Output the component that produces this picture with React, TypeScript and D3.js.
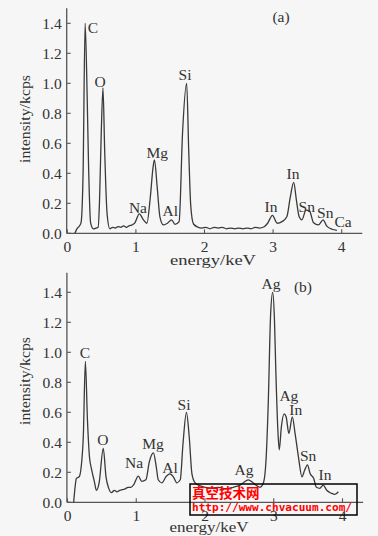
import React from "react";
import * as d3 from "d3";

// ---------- DATA ----------
const xTicks = [0, 1, 2, 3, 4];
const yTicks = [0, 0.2, 0.4, 0.6, 0.8, 1.0, 1.2, 1.4];

const energyA = [0.11,0.14,0.17,0.2,0.23,0.26,0.29,0.31,0.34,0.38,0.42,0.45,0.47,0.495,0.52,0.545,0.58,0.62,0.66,0.7,0.74,0.78,0.82,0.86,0.9,0.94,0.985,1.05,1.11,1.16,1.21,1.25,1.27,1.31,1.35,1.4,1.46,1.52,1.57,1.63,1.68,1.74,1.77,1.8,1.84,1.91,1.96,2.02,2.08,2.14,2.2,2.26,2.32,2.38,2.44,2.5,2.56,2.62,2.68,2.74,2.8,2.87,2.92,2.99,3.06,3.13,3.2,3.25,3.3,3.34,3.38,3.42,3.48,3.53,3.59,3.66,3.73,3.78,3.86,3.93];
const intensityA = [0.0,0.03,0.045,0.07,0.4,1.4,0.9,0.45,0.07,0.03,0.035,0.04,0.22,0.67,0.97,0.55,0.13,0.03,0.04,0.035,0.045,0.04,0.05,0.04,0.05,0.055,0.07,0.13,0.09,0.067,0.24,0.44,0.49,0.31,0.11,0.056,0.067,0.09,0.06,0.078,0.67,1.0,0.55,0.18,0.062,0.04,0.035,0.04,0.03,0.04,0.035,0.04,0.03,0.035,0.03,0.035,0.03,0.035,0.03,0.04,0.035,0.044,0.067,0.12,0.067,0.078,0.11,0.24,0.34,0.22,0.11,0.09,0.155,0.15,0.07,0.056,0.09,0.05,0.027,0.02];

const energyB = [0.09,0.11,0.13,0.17,0.2,0.23,0.26,0.29,0.32,0.35,0.39,0.42,0.46,0.52,0.56,0.6,0.64,0.68,0.72,0.76,0.8,0.84,0.88,0.92,0.96,1.03,1.08,1.14,1.19,1.25,1.29,1.32,1.37,1.44,1.49,1.54,1.59,1.64,1.68,1.73,1.77,1.81,1.856,1.93,2.0,2.1,2.2,2.3,2.41,2.51,2.63,2.7,2.8,2.85,2.89,2.92,2.955,2.985,3.01,3.03,3.06,3.08,3.11,3.15,3.18,3.22,3.27,3.31,3.36,3.41,3.45,3.49,3.53,3.58,3.62,3.67,3.72,3.77,3.84,3.89,3.94];
const intensityB = [0,0.1,0.16,0.17,0.24,0.44,0.94,0.55,0.3,0.22,0.14,0.08,0.13,0.36,0.17,0.093,0.064,0.08,0.07,0.08,0.085,0.09,0.1,0.1,0.115,0.175,0.14,0.15,0.27,0.33,0.24,0.15,0.13,0.175,0.19,0.17,0.13,0.15,0.39,0.6,0.44,0.19,0.13,0.11,0.1,0.095,0.1,0.09,0.1,0.115,0.15,0.13,0.1,0.13,0.3,0.66,1.26,1.4,1.22,0.88,0.48,0.35,0.5,0.59,0.57,0.46,0.57,0.46,0.3,0.17,0.215,0.25,0.19,0.16,0.1,0.093,0.115,0.08,0.06,0.053,0.07];

const labelTextA = ["C","O","Si","Mg","Na","Al","In","In","Sn","Sn","Ca"];
const labelEnergyA = [0.375,0.477,1.716,1.31,1.03,1.5,2.97,3.29,3.49,3.76,4.02];
const labelIntensityA = [1.37,1.01,1.055,0.54,0.17,0.15,0.175,0.395,0.175,0.14,0.075];

const labelTextB = ["C","O","Na","Mg","Al","Si","Ag","Ag","Ag","In","Sn","In"];
const labelEnergyB = [0.255,0.516,0.967,1.244,1.49,1.695,2.567,2.96,3.22,3.32,3.5,3.745];
const labelIntensityB = [1.0,0.415,0.262,0.389,0.229,0.649,0.215,1.455,0.709,0.615,0.309,0.182];

const xTitle = "energy/keV";
const yTitle = "intensity/kcps";

const FONT = "'Liberation Serif', 'DejaVu Serif', serif";
const INK = "#333";

type PanelProps = {
  x0: number; xPerUnit: number; yBase: number; yPerUnit: number; yTop: number;
  energy: number[]; intensity: number[];
  lt: string[]; le: number[]; li: number[];
  tag: string; tagE: number; tagI: number;
};

function Panel(p: PanelProps) {
  const xMax = 4.3;
  const x = d3.scaleLinear().domain([0, xMax]).range([p.x0, p.x0 + xMax * p.xPerUnit]);
  const y = d3.scaleLinear().domain([0, 1]).range([p.yBase, p.yBase - p.yPerUnit]);
  const pts = p.energy.map((e, i) => [e, p.intensity[i]] as [number, number]);
  const line = d3.line<[number, number]>().x(d => x(d[0])).y(d => y(d[1])).curve(d3.curveMonotoneX);
  const ax = x(0) - 0.6;
  return (
    <g>
      <line x1={ax} x2={ax} y1={y(p.yTop)} y2={y(0)} stroke="#555" strokeWidth={1.3} />
      <line x1={ax} x2={x(xMax)} y1={y(0)} y2={y(0)} stroke="#555" strokeWidth={1.3} />
      {yTicks.map(t => (
        <g key={"y" + t}>
          <line x1={ax} x2={ax + 4} y1={y(t)} y2={y(t)} stroke="#555" strokeWidth={1.1} />
          <text x={ax - 5} y={y(t)} dy="0.35em" textAnchor="end" fontFamily={FONT} fontSize={15.5} fill={INK}>{t.toFixed(1)}</text>
        </g>
      ))}
      {xTicks.map(t => (
        <g key={"x" + t}>
          <line x1={x(t)} x2={x(t)} y1={y(0)} y2={y(0) - 4} stroke="#555" strokeWidth={1.1} />
          <text x={x(t)} y={y(0) + 19} textAnchor="middle" fontFamily={FONT} fontSize={15.5} fill={INK}>{t}</text>
        </g>
      ))}
      <path d={line(pts) || ""} fill="none" stroke="#3a3a3a" strokeWidth={1.3} strokeLinejoin="round" />
      {p.lt.map((t, i) => (
        <text key={"l" + i} x={x(p.le[i])} y={y(p.li[i])} dy="0.35em" textAnchor="middle" fontFamily={FONT} fontSize={15.5} fill={INK}>{t}</text>
      ))}
      <text x={x(p.tagE)} y={y(p.tagI)} dy="0.35em" textAnchor="middle" fontFamily={FONT} fontSize={15.5} fill={INK}>{p.tag}</text>
    </g>
  );
}

export default function App() {
  return (
    <svg width={378} height={536} style={{ position: "absolute", left: 0, top: 0, background: "#f6f6f6" }}>
      <rect x={0} y={0} width={378} height={536} fill="#f6f6f6" />
      <Panel x0={67.3} xPerUnit={68.6} yBase={233.3} yPerUnit={150} yTop={1.5}
        energy={energyA} intensity={intensityA}
        lt={labelTextA} le={labelEnergyA} li={labelIntensityA}
        tag="(a)" tagE={3.116} tagI={1.442} />
      <Panel x0={67.5} xPerUnit={68.75} yBase={502.3} yPerUnit={150} yTop={1.53}
        energy={energyB} intensity={intensityB}
        lt={labelTextB} le={labelEnergyB} li={labelIntensityB}
        tag="(b)" tagE={3.425} tagI={1.435} />
      {/* axis titles */}
      <text x={213} y={265} textAnchor="middle" fontFamily={FONT} fontSize={15.5} fill={INK} textLength={86} lengthAdjust="spacingAndGlyphs">{xTitle}</text>
      <text x={209} y={532} textAnchor="middle" fontFamily={FONT} fontSize={15.5} fill={INK} textLength={79} lengthAdjust="spacingAndGlyphs">{xTitle}</text>
      <text transform="translate(30,119) rotate(-90)" textAnchor="middle" fontFamily={FONT} fontSize={15.5} fill={INK} textLength={88} lengthAdjust="spacingAndGlyphs">{yTitle}</text>
      <text transform="translate(30,381) rotate(-90)" textAnchor="middle" fontFamily={FONT} fontSize={15.5} fill={INK} textLength={88} lengthAdjust="spacingAndGlyphs">{yTitle}</text>
      {/* watermark */}
      <rect x={190} y={484} width={167} height={31} fill="none" stroke="#000" strokeWidth={1.5} />
      <text x={192} y={497.5} fontFamily="'Noto Sans CJK SC', sans-serif" fontWeight="bold" fontSize={13.5} fill="#ff0000">真空技术网</text>
      <text x={192} y={510.5} fontFamily="'DejaVu Sans Mono', monospace" fontWeight="bold" fontSize={11} fill="#ff0000" textLength={160} lengthAdjust="spacingAndGlyphs">http://www.chvacuum.com/</text>
    </svg>
  );
}
